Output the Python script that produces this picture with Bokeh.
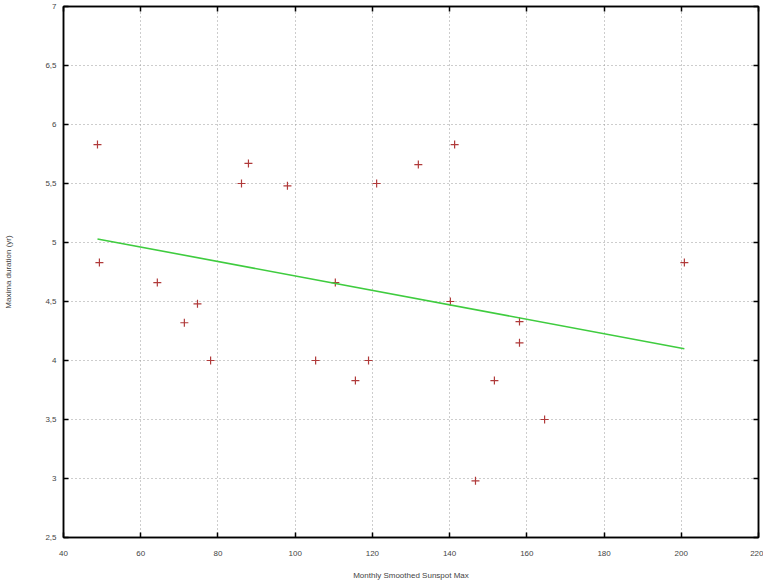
from bokeh.plotting import figure
from bokeh.models import LinearAxis, FixedTicker, Range1d, CustomLabelingPolicy
from bokeh.embed import file_html
from bokeh.resources import INLINE

# Data
sunspot_max = [48.8, 49.3, 64.3, 71.3, 74.7, 78.1, 86.1, 87.9, 98.0, 105.3,
               110.4, 115.6, 119.0, 121.1, 131.9, 141.3, 140.2, 146.7, 151.6,
               158.1, 158.1, 164.6, 200.8]
maxima_duration = [5.83, 4.83, 4.66, 4.32, 4.48, 4.00, 5.50, 5.67, 5.48, 4.00,
                   4.66, 3.83, 4.00, 5.50, 5.66, 5.83, 4.50, 2.98, 3.83,
                   4.33, 4.15, 3.50, 4.83]
fit_x = [48.8, 200.8]
fit_y = [5.03, 4.10]

x_ticks = [40, 60, 80, 100, 120, 140, 160, 180, 200, 220]
y_ticks = [2.5, 3, 3.5, 4, 4.5, 5, 5.5, 6, 6.5, 7]
y_tick_labels = {2.5: "2,5", 3: "3", 3.5: "3,5", 4: "4", 4.5: "4,5", 5: "5",
                 5.5: "5,5", 6: "6", 6.5: "6,5", 7: "7"}

FONT = "Liberation Sans"
TXT = "#444444"

p = figure(frame_width=695, frame_height=531,
           min_border_left=63, min_border_right=5, min_border_top=6,
           min_border_bottom=49,
           x_range=Range1d(40, 220), y_range=Range1d(2.5, 7),
           output_backend="svg", toolbar_location=None,
           x_axis_label="Monthly Smoothed Sunspot Max",
           y_axis_label="Maxima duration (yr)")

p.background_fill_color = "white"
p.border_fill_color = "white"
p.outline_line_color = "black"
p.outline_line_width = 1.5

for ax in (p.xaxis[0], p.yaxis[0]):
    ax.major_tick_in = 5
    ax.major_tick_out = 0
    ax.minor_tick_line_color = None
    ax.axis_line_color = "black"
    ax.axis_line_width = 1.5
    ax.major_tick_line_color = "black"
    ax.major_tick_line_width = 1.5
    ax.major_label_text_font = FONT
    ax.major_label_text_font_size = "8px"
    ax.major_label_text_color = TXT
    ax.axis_label_text_font = FONT
    ax.axis_label_text_font_size = "8px"
    ax.axis_label_text_font_style = "normal"
    ax.axis_label_text_color = TXT

p.xaxis[0].ticker = FixedTicker(ticks=x_ticks)
p.yaxis[0].ticker = FixedTicker(ticks=y_ticks)
p.yaxis[0].major_label_overrides = y_tick_labels
p.xaxis[0].major_label_standoff = 13
p.xaxis[0].axis_label_standoff = 12
p.yaxis[0].major_label_standoff = 7
p.yaxis[0].axis_label_standoff = 29

# mirrored axes (ticks only, labels filtered out)
hide_all = CustomLabelingPolicy(
    code="for (const i of Array.from(indices)) { indices.unset(i) } return indices")
top = LinearAxis(ticker=FixedTicker(ticks=x_ticks))
right = LinearAxis(ticker=FixedTicker(ticks=y_ticks))
for ax in (top, right):
    ax.major_tick_in = 5
    ax.major_tick_out = 0
    ax.minor_tick_line_color = None
    ax.axis_line_color = "black"
    ax.axis_line_width = 1.5
    ax.major_tick_line_color = "black"
    ax.major_tick_line_width = 1.5
    ax.major_label_text_font_size = "1px"
    ax.major_label_policy = hide_all
    ax.major_label_standoff = 0
p.add_layout(top, "above")
p.add_layout(right, "right")

p.xgrid.ticker = FixedTicker(ticks=x_ticks[1:-1])
p.ygrid.ticker = FixedTicker(ticks=y_ticks[1:-1])
for g in (p.xgrid[0], p.ygrid[0]):
    g.grid_line_color = "#9a9a9a"
    g.grid_line_dash = "1 3"
    g.grid_line_width = 1

p.scatter(sunspot_max, maxima_duration, marker="cross", size=8,
          line_color="#b03a3a", line_width=1.2)
p.line(fit_x, fit_y, line_color="#3fcc3f", line_width=1.6)

open("out.html", "w").write(file_html(p, INLINE))
